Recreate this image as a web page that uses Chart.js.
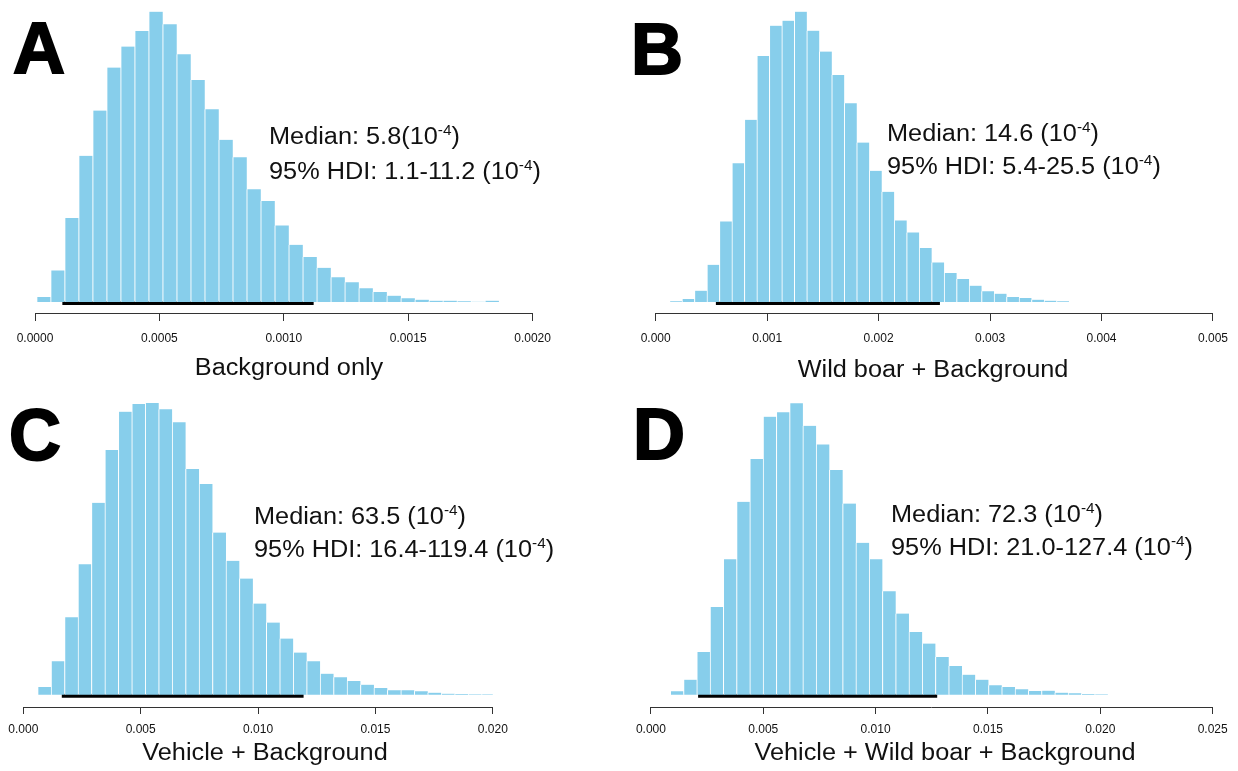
<!DOCTYPE html>
<html>
<head>
<meta charset="utf-8">
<script src="https://cdn.jsdelivr.net/npm/chart.js@4.4.1/dist/chart.umd.min.js"></script>
<style>
  body { margin: 0; background: #fff; }
  #wrap { position: relative; width: 1238px; height: 771px; overflow: hidden; font-family: "Liberation Sans", Arial, sans-serif; color: #111; }
  canvas { position: absolute; }
  .letter { position: absolute; font-size: 72px; line-height: 72px; font-weight: bold; color: #000; -webkit-text-stroke: 2px #000; }
  .note { position: absolute; font-size: 23px; white-space: nowrap; transform: scaleX(1.1); transform-origin: left center; }
  .note sup { font-size: 14px; vertical-align: 9px; line-height: 0; }
  .xtitle { position: absolute; font-size: 23px; white-space: nowrap; transform: translate(-50%, -50%) scaleX(1.1); line-height: 26px; }
</style>
</head>
<body>
<div id="wrap">
  <canvas id="chartA" width="615" height="390" style="left:0;top:0"></canvas>
  <canvas id="chartB" width="623" height="390" style="left:615px;top:0"></canvas>
  <canvas id="chartC" width="615" height="386" style="left:0;top:385px"></canvas>
  <canvas id="chartD" width="623" height="386" style="left:615px;top:385px"></canvas>

  <div class="letter" style="left:13px;top:12px">A</div>
  <div class="letter" style="left:631px;top:13px">B</div>
  <div class="letter" style="left:9px;top:399px">C</div>
  <div class="letter" style="left:633px;top:398px">D</div>

  <div class="note" style="left:269px;top:119px;line-height:34.5px">Median: 5.8(10<sup>-4</sup>)<br>95% HDI: 1.1-11.2 (10<sup>-4</sup>)</div>
  <div class="note" style="left:887px;top:117px;line-height:33px">Median: 14.6 (10<sup>-4</sup>)<br>95% HDI: 5.4-25.5 (10<sup>-4</sup>)</div>
  <div class="note" style="left:254px;top:500px;line-height:33px">Median: 63.5 (10<sup>-4</sup>)<br>95% HDI: 16.4-119.4 (10<sup>-4</sup>)</div>
  <div class="note" style="left:891px;top:498px;line-height:33px">Median: 72.3 (10<sup>-4</sup>)<br>95% HDI: 21.0-127.4 (10<sup>-4</sup>)</div>

  <div class="xtitle" style="left:289px;top:367px">Background only</div>
  <div class="xtitle" style="left:933px;top:369px">Wild boar + Background</div>
  <div class="xtitle" style="left:265px;top:752px">Vehicle + Background</div>
  <div class="xtitle" style="left:945px;top:752px">Vehicle + Wild boar + Background</div>
</div>

<script>
// posterior samples, histogram bins (relative frequency)
const aBinStart = 0.0000067;
const aBinWidth = 0.0000563;
const aCounts = [15, 95, 252, 439, 575, 704, 767, 814, 872, 834, 744, 667, 579, 487, 435, 339, 303,
  230, 172, 135, 103, 74, 59, 41, 30, 19, 11, 7, 4, 4, 2, 1, 4];
const aHdi = [0.00011, 0.00112];
const aTicks = [0, 0.0005, 0.001, 0.0015, 0.002];

const bBinStart = 0.000124;
const bBinWidth = 0.000112;
const bCounts = [2, 9, 34, 112, 242, 417, 547, 739, 830, 845, 872, 815, 752, 682, 597, 479, 394,
  331, 245, 209, 162, 119, 87, 69, 49, 32, 25, 15, 12, 7, 4, 2];
const bHdi = [0.00054, 0.00255];
const bTicks = [0, 0.001, 0.002, 0.003, 0.004, 0.005];

const cBinStart = 0.000612;
const cBinWidth = 0.000573;
const cCounts = [23, 100, 232, 391, 575, 733, 848, 871, 874, 855, 816, 676, 631, 486, 401, 348, 273,
  216, 168, 126, 100, 63, 52, 41, 30, 20, 13, 13, 10, 6, 3, 2, 1, 1];
const cHdi = [0.00164, 0.01194];
const cTicks = [0, 0.005, 0.01, 0.015, 0.02];

const dBinStart = 0.000864;
const dBinWidth = 0.00059;
const dCounts = [10, 45, 128, 263, 406, 578, 706, 833, 846, 873, 806, 750, 673, 573, 455, 406, 310,
  243, 188, 153, 113, 86, 60, 45, 28, 23, 16, 11, 12, 6, 4, 2, 1];
const dHdi = [0.0021, 0.01274];
const dTicks = [0, 0.005, 0.01, 0.015, 0.02, 0.025];

const BAR_COLOR = "#87CEEB";

function makePanel(id, binStart, binWidth, counts, hdi, ticks, decimals, opts) {
  const bars = counts.map((c, i) => ({ x: binStart + (i + 0.5) * binWidth, y: c }));
  const ctx = document.getElementById(id).getContext("2d");

  return new Chart(ctx, {
    type: "bar",
    data: {
      datasets: [
        {
          type: "bar",
          data: bars,
          backgroundColor: BAR_COLOR,
          borderColor: "#ffffff",
          borderWidth: { left: 1, right: 0, top: 0, bottom: 0 },
          borderSkipped: false,
          barPercentage: 1,
          categoryPercentage: 1
        },
        {
          type: "line",
          data: [{ x: hdi[0], y: -3 }, { x: hdi[1], y: -3 }],
          borderColor: "#000",
          borderWidth: 4,
          borderCapStyle: "butt",
          pointRadius: 0,
          fill: false
        }
      ]
    },
    options: {
      responsive: false,
      animation: false,
      devicePixelRatio: 1,
      events: [],
      layout: { padding: { left: opts.padLeft, right: opts.padRight, top: 0, bottom: 0 } },
      plugins: { legend: { display: false }, tooltip: { enabled: false } },
      scales: {
        x: {
          type: "linear",
          offset: false,
          min: ticks[0],
          max: ticks[ticks.length - 1],
          afterBuildTicks: s => { s.ticks = ticks.map(v => ({ value: v })); },
          afterFit: s => { s.height = opts.axisHeight; },
          grid: {
            display: true,
            offset: false,
            drawOnChartArea: false,
            drawTicks: true,
            tickLength: opts.tickLength,
            tickColor: "#333"
          },
          border: { display: true, color: "#333", width: 1 },
          ticks: {
            autoSkip: false,
            maxRotation: 0,
            padding: opts.labelPad,
            color: "#111",
            font: { family: "'Liberation Sans', Arial, sans-serif", size: 12 },
            callback: v => Number(v).toFixed(decimals)
          }
        },
        y: {
          display: false,
          min: opts.yMin,
          max: opts.yMax
        }
      }
    }
  });
}

makePanel("chartA", aBinStart, aBinWidth, aCounts, aHdi, aTicks, 4,
  { padLeft: 35, padRight: 82.4, axisHeight: 77, tickLength: 8, labelPad: 10, yMin: -33, yMax: 907 });
makePanel("chartB", bBinStart, bBinWidth, bCounts, bHdi, bTicks, 3,
  { padLeft: 40.7, padRight: 23.7, axisHeight: 77, tickLength: 8, labelPad: 10, yMin: -33, yMax: 907 });
makePanel("chartC", cBinStart, cBinWidth, cCounts, cHdi, cTicks, 3,
  { padLeft: 23.3, padRight: 122.2, axisHeight: 64, tickLength: 7, labelPad: 8, yMin: -37, yMax: 928 });
makePanel("chartD", dBinStart, dBinWidth, dCounts, dHdi, dTicks, 3,
  { padLeft: 35.9, padRight: 25.3, axisHeight: 64, tickLength: 7, labelPad: 8, yMin: -37, yMax: 928 });
</script>
</body>
</html>
